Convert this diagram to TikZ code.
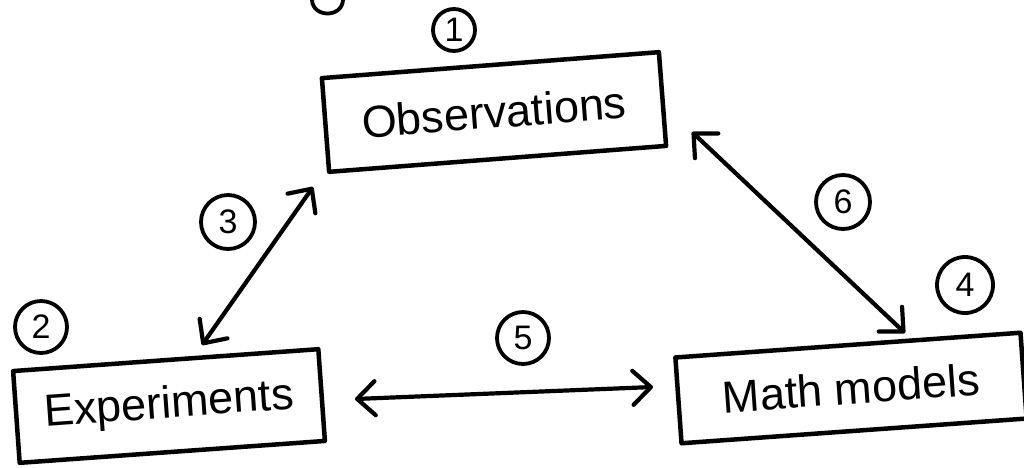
\documentclass[tikz,border=0pt]{standalone}
\usepackage{fontspec}
\setmainfont{Liberation Sans}
\usetikzlibrary{arrows.meta}
\tikzset{hb/.tip={Straight Barb[length=18pt,width=34pt,round]}}
\begin{document}
\begin{tikzpicture}[x=1pt,y=-1pt,
  box/.style={draw, line width=4.5pt, line join=round, inner sep=0pt, font=\fontsize{45}{48}\selectfont},
  num/.style={draw, circle, line width=3.8pt, inner sep=0pt, font=\fontsize{34}{36}\selectfont},
  conn/.style={line width=4.2pt, line cap=round, line join=round, {hb}-{hb}}]
\useasboundingbox (0,0) rectangle (1024,467);
% boxes
\node[box, minimum width=338pt, minimum height=94pt, rotate=4.4] (obs) at (494,112) {Observations};
\node[box, minimum width=306pt, minimum height=92pt, rotate=4.1] (exp) at (169,406) {Experiments};
\node[box, minimum width=346pt, minimum height=86pt, rotate=4.1] (math) at (851,388) {Math models};
% circled numbers
\node[num, minimum size=42pt] (n1) at (454,30) {1};
\node[num, minimum size=52pt] (n2) at (41,327) {2};
\node[num, minimum size=54pt] (n3) at (228,222) {3};
\node[num, minimum size=56pt] (n4) at (965,285) {4};
\node[num, minimum size=52pt] (n5) at (523,338) {5};
\node[num, minimum size=54pt] (n6) at (843,202) {6};
% partial mark at the top edge
\coordinate (topa) at (312,0);
\coordinate (topb) at (343,0);
\draw[line width=3.8pt, line cap=round] (topa) .. controls (313,18) and (342,18) .. (topb);
% connectors
\coordinate (e3) at (202,345);
\coordinate (o3) at (313,187);
\coordinate (o6) at (692,132);
\coordinate (m6) at (905,333);
\coordinate (e5) at (355,399);
\coordinate (m5) at (653,387);
\draw[conn] (e3) -- (o3);
\draw[conn] (o6) -- (m6);
\draw[conn] (e5) -- (m5);
\end{tikzpicture}
\end{document}
